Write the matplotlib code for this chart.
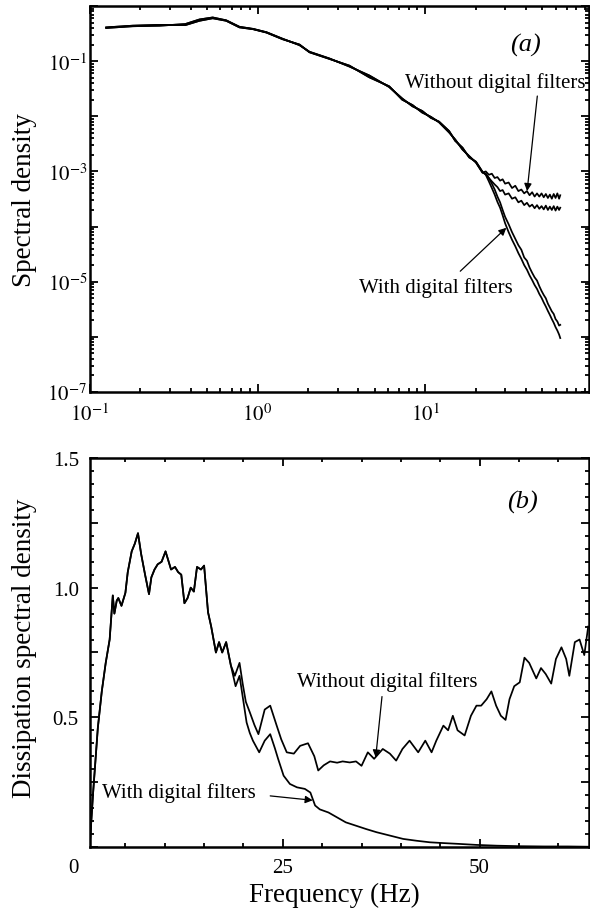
import numpy as np
import matplotlib
matplotlib.use("Agg")
import matplotlib.pyplot as plt
from matplotlib.ticker import (FixedLocator, FuncFormatter, LogLocator,
                               MultipleLocator, NullFormatter)
from matplotlib.transforms import blended_transform_factory

plt.rcParams['font.family'] = ['Liberation Serif', 'DejaVu Serif']
plt.rcParams['mathtext.fontset'] = 'stix'

# ---- (a) spectral density, low-frequency part (same with/without filters)
freq_lo = [0.125, 0.18, 0.26, 0.37, 0.45, 0.54, 0.65, 0.78, 0.94, 1.13, 1.41,
           1.78, 2.04, 2.68, 3.53, 4.64, 6.1, 7.3, 8.4, 9.6, 10.8, 12.1, 13.9,
           15.1, 16.7, 18.3, 20.1, 22.0]
psd_lo_1 = [0.41, 0.44, 0.455, 0.45, 0.54, 0.60, 0.54, 0.41, 0.38, 0.33, 0.25,
            0.20, 0.145, 0.11, 0.083, 0.051, 0.035, 0.020, 0.0160, 0.0117,
            0.0098, 0.0078, 0.0051, 0.0038, 0.0025, 0.0019, 0.00145, 0.00095]
psd_lo_2 = [0.40, 0.43, 0.44, 0.47, 0.57, 0.62, 0.55, 0.42, 0.385, 0.335,
            0.255, 0.195, 0.148, 0.112, 0.080, 0.055, 0.034, 0.021, 0.0152,
            0.0125, 0.0094, 0.0080, 0.0054, 0.0036, 0.0027, 0.0018, 0.0015,
            0.00098]

# high-frequency end, where the filters make the difference
freq_hi = [23, 24, 25, 26, 27, 28, 29, 30, 31.5, 33, 34.5, 36, 37.5, 39, 40.5,
           42, 43.5, 45, 46.5, 48, 49.5, 51, 52.5, 54, 55.5, 57, 58.5, 60,
           61.5, 63, 64]
psd_raw_1 = [1.0e-3, 8.7e-4, 9.1e-4, 7.6e-4, 7.9e-4, 6.8e-4, 7.2e-4, 6.0e-4,
             6.3e-4, 5.0e-4, 5.5e-4, 4.4e-4, 4.7e-4, 4.0e-4, 4.4e-4, 3.7e-4,
             4.2e-4, 3.5e-4, 4.0e-4, 3.5e-4, 4.0e-4, 3.4e-4, 3.9e-4, 3.3e-4,
             3.8e-4, 3.2e-4, 3.9e-4, 3.3e-4, 4.0e-4, 3.2e-4, 3.7e-4]
psd_raw_2 = [8.9e-4, 7.6e-4, 6.6e-4, 5.8e-4, 5.2e-4, 4.4e-4, 4.6e-4, 3.8e-4,
             4.0e-4, 3.2e-4, 3.4e-4, 2.75e-4, 2.95e-4, 2.45e-4, 2.7e-4, 2.3e-4,
             2.5e-4, 2.15e-4, 2.45e-4, 2.1e-4, 2.35e-4, 2.05e-4, 2.4e-4, 2.0e-4,
             2.3e-4, 2.0e-4, 2.35e-4, 1.95e-4, 2.3e-4, 2.0e-4, 2.2e-4]
psd_filt_1 = [9.1e-4, 7.6e-4, 6.0e-4, 4.7e-4, 3.5e-4, 2.75e-4, 2.0e-4, 1.5e-4,
              1.1e-4, 7.9e-5, 6.0e-5, 4.6e-5, 3.8e-5, 2.75e-5, 2.4e-5, 1.8e-5,
              1.45e-5, 1.2e-5, 1.05e-5, 8.3e-6, 6.8e-6, 5.75e-6, 5.0e-6, 4.0e-6,
              3.4e-6, 2.9e-6, 2.6e-6, 2.1e-6, 1.9e-6, 1.6e-6, 1.65e-6]
psd_filt_2 = [8.7e-4, 6.6e-4, 5.0e-4, 3.8e-4, 2.8e-4, 2.2e-4, 1.6e-4, 1.15e-4,
              7.9e-5, 5.75e-5, 4.4e-5, 3.3e-5, 2.6e-5, 2.0e-5, 1.65e-5, 1.3e-5,
              1.07e-5, 8.7e-6, 7.4e-6, 6.0e-6, 5.1e-6, 4.2e-6, 3.55e-6, 2.95e-6,
              2.5e-6, 2.1e-6, 1.8e-6, 1.5e-6, 1.3e-6, 1.1e-6, 9.5e-7]

# ---- (b) dissipation spectral density
dis_freq_lo = [0.5, 0.9, 1.5, 2.0, 2.5, 3.0, 3.4, 3.6, 3.9, 4.1, 4.5, 5.0, 5.3,
               5.8, 6.2, 6.6, 7.0, 7.5, 8.0, 8.3, 8.7, 9.1, 9.6, 10.1, 10.4,
               10.8, 11.3, 11.7, 12.1, 12.5, 12.9, 13.3, 13.7, 14.1, 14.6, 15.0,
               15.5, 15.9, 16.5, 16.9, 17.3, 17.8, 18.4]
dis_lo = [0.02, 0.21, 0.46, 0.60, 0.71, 0.80, 0.97, 0.90, 0.95, 0.96, 0.93,
          0.98, 1.06, 1.14, 1.17, 1.21, 1.13, 1.05, 0.975, 1.04, 1.07, 1.09,
          1.10, 1.14, 1.11, 1.07, 1.08, 1.06, 1.05, 0.94, 0.96, 1.0, 0.985,
          1.08, 1.07, 1.085, 0.905, 0.85, 0.75, 0.79, 0.75, 0.79, 0.70]

dis_freq_raw = [18.9, 19.5, 19.9, 20.3, 20.8, 21.4, 21.9, 22.7, 23.4, 24.2,
                24.8, 25.5, 26.4, 27.2, 28.2, 29.0, 29.5, 30.2, 31.0, 31.9,
                32.6, 33.5, 34.3, 35.0, 35.8, 36.6, 37.7, 38.6, 39.4, 40.2,
                41.1, 42.2, 43.1, 43.9, 44.5, 45.4, 46.0, 46.6, 47.2, 48.1,
                48.9, 49.6, 50.2, 50.9, 51.5, 52.1, 52.7, 53.3, 53.8, 54.4,
                55.1, 55.7, 56.3, 57.2, 57.8, 58.4, 59.1, 59.7, 60.4, 61.0,
                61.4, 62.1, 62.7, 63.3, 63.8]
dis_raw = [0.66, 0.71, 0.63, 0.56, 0.52, 0.47, 0.435, 0.53, 0.545, 0.47, 0.415,
           0.365, 0.36, 0.39, 0.40, 0.35, 0.295, 0.315, 0.33, 0.325, 0.33,
           0.326, 0.33, 0.313, 0.365, 0.34, 0.378, 0.36, 0.333, 0.378, 0.41,
           0.365, 0.41, 0.365, 0.41, 0.468, 0.45, 0.506, 0.45, 0.43, 0.506,
           0.545, 0.545, 0.57, 0.60, 0.545, 0.506, 0.49, 0.57, 0.62, 0.635,
           0.73, 0.71, 0.65, 0.69, 0.667, 0.63, 0.725, 0.77, 0.725, 0.66, 0.79,
           0.80, 0.74, 0.85]

dis_freq_filt = [19.0, 19.5, 20.0, 20.4, 20.8, 21.2, 22.0, 22.7, 23.4, 24.0,
                 24.4, 25.1, 25.9, 26.8, 27.8, 28.5, 29.1, 29.7, 30.8, 31.9,
                 33.0, 34.3, 35.6, 36.9, 38.6, 40.3, 42.0, 43.7, 45.4, 47.3,
                 49.6, 52.2, 55.2, 58.2, 61.2, 63.8]
dis_filt = [0.62, 0.66, 0.56, 0.48, 0.44, 0.41, 0.365, 0.41, 0.435, 0.38, 0.34,
            0.275, 0.243, 0.23, 0.224, 0.21, 0.16, 0.145, 0.133, 0.114, 0.095,
            0.082, 0.069, 0.057, 0.044, 0.031, 0.024, 0.018, 0.015, 0.012,
            0.008, 0.005, 0.003, 0.002, 0.002, 0.001]

# tick positions / labels
xtick_a = [0.1, 1, 10, 100]
ytick_exp_a = [-7, -6, -5, -4, -3, -2, -1, 0]
ylabel_exp_a = [-7, -5, -3, -1]
ytick_b = [0.0, 0.25, 0.5, 0.75, 1.0, 1.25, 1.5]
ylabel_b = [0.5, 1.0, 1.5]
xtick_b = [25, 50]

LW = 1.25
FS_TICK = 15
FS_LABEL = 19.5
FS_NOTE = 15


def style_axes(ax):
    for s in ax.spines.values():
        s.set_linewidth(1.8)
    ax.tick_params(which='both', direction='in', top=True, right=True,
                   width=1.3, labelsize=FS_TICK)
    ax.tick_params(which='major', length=6)
    ax.tick_params(which='minor', length=3)


def arrow(ax, start, tip):
    ax.annotate('', xy=tip, xytext=start,
                arrowprops=dict(arrowstyle='-|>', color='black', lw=0.9,
                                mutation_scale=11, shrinkA=0, shrinkB=0))


fig = plt.figure(figsize=(5.9, 9.12), dpi=100)
ax1 = fig.add_axes([0.1525, 0.5691, 0.8458, 0.4232])
ax2 = fig.add_axes([0.1525, 0.0702, 0.8458, 0.4265])

# ---- panel (a)
f_all = np.concatenate([freq_lo, freq_hi])
for lo, hi in [(psd_lo_1, psd_raw_1), (psd_lo_2, psd_raw_2),
               (psd_lo_1, psd_filt_1), (psd_lo_2, psd_filt_2)]:
    ax1.plot(f_all, np.concatenate([lo, hi]), color='black', lw=LW)

ax1.set_xscale('log')
ax1.set_yscale('log')
ax1.set_xlim(0.1, 95)
ax1.set_ylim(1e-7, 1)
style_axes(ax1)
ax1.xaxis.set_major_locator(FixedLocator(xtick_a))
ax1.xaxis.set_major_formatter(FuncFormatter(
    lambda v, p: r'$10^{%d}$' % round(np.log10(v))))
ax1.xaxis.set_minor_locator(LogLocator(base=10, subs=np.arange(2, 10),
                                       numticks=20))
ax1.xaxis.set_minor_formatter(NullFormatter())
ax1.yaxis.set_major_locator(FixedLocator([10.0 ** e for e in ytick_exp_a]))
ax1.yaxis.set_major_formatter(FuncFormatter(
    lambda v, p: r'$10^{%d}$' % round(np.log10(v))
    if round(np.log10(v)) in ylabel_exp_a else ''))
ax1.yaxis.set_minor_locator(LogLocator(base=10, subs=np.arange(2, 10),
                                       numticks=20))
ax1.yaxis.set_minor_formatter(NullFormatter())
ax1.tick_params(axis='y', pad=2)
ax1.tick_params(axis='x', pad=8)
ax1.set_ylabel('Spectral density', fontsize=FS_LABEL)
ax1.yaxis.set_label_coords(-0.106, 0.5)

ax1.text(39.5, 0.2, '(a)', fontsize=19, style='italic',
         ha='center', va='center')
ax1.text(26.2, 0.042, 'Without digital filters', fontsize=FS_NOTE,
         ha='center', va='center')
arrow(ax1, (46.7, 0.0233), (40.6, 4.4e-4))
ax1.text(11.6, 7.9e-6, 'With digital filters', fontsize=FS_NOTE,
         ha='center', va='center')
arrow(ax1, (16.2, 1.55e-5), (30.5, 9.5e-5))

# ---- panel (b)
ax2.plot(np.concatenate([dis_freq_lo, dis_freq_raw]),
         np.concatenate([dis_lo, dis_raw]), color='black', lw=LW)
ax2.plot(np.concatenate([dis_freq_lo, dis_freq_filt]),
         np.concatenate([dis_lo, dis_filt]), color='black', lw=LW)

ax2.set_xlim(0.5, 63.9)
ax2.set_ylim(0, 1.5)
style_axes(ax2)
ax2.xaxis.set_major_locator(FixedLocator(xtick_b))
ax2.xaxis.set_minor_locator(MultipleLocator(5))
ax2.yaxis.set_major_locator(FixedLocator(ytick_b))
ax2.yaxis.set_major_formatter(FuncFormatter(
    lambda v, p: '%.1f' % v if v in ylabel_b else ''))
ax2.yaxis.set_minor_locator(MultipleLocator(0.05))
ax2.tick_params(axis='y', pad=8)
ax2.tick_params(axis='x', pad=8)
ax2.text(-1.65, -0.028, '0', fontsize=FS_TICK, ha='center', va='top',
         transform=blended_transform_factory(ax2.transData, ax2.transAxes),
         clip_on=False)
ax2.set_ylabel('Dissipation spectral density', fontsize=FS_LABEL)
ax2.yaxis.set_label_coords(-0.106, 0.514)
ax2.set_xlabel('Frequency (Hz)', fontsize=FS_LABEL)
ax2.xaxis.set_label_coords(0.49, -0.09)

ax2.text(55.4, 1.334, '(b)', fontsize=19, style='italic',
         ha='center', va='center')
ax2.text(38.3, 0.64, 'Without digital filters', fontsize=FS_NOTE,
         ha='center', va='center')
arrow(ax2, (37.6, 0.58), (36.8, 0.345))
ax2.text(11.8, 0.212, 'With digital filters', fontsize=FS_NOTE,
         ha='center', va='center')
arrow(ax2, (23.4, 0.197), (28.8, 0.18))

fig.savefig('out.png', dpi=100)
